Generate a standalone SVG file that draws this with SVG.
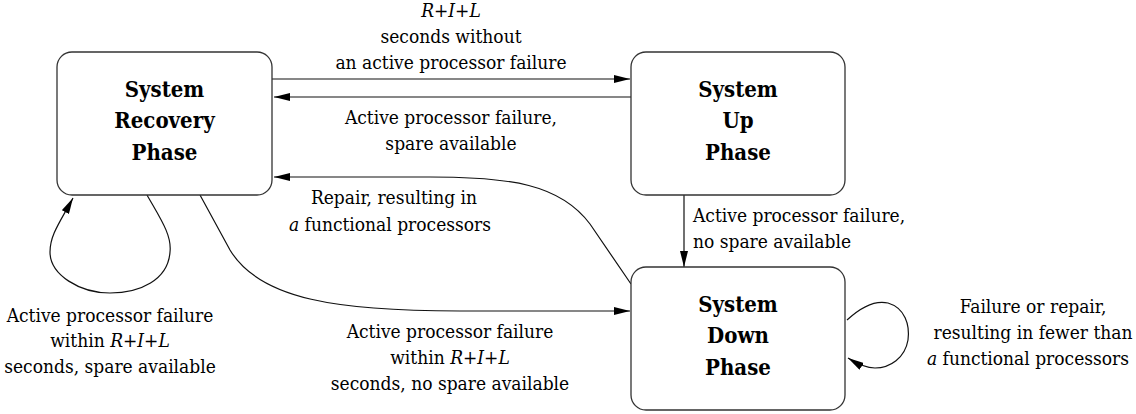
<svg xmlns="http://www.w3.org/2000/svg" width="1136" height="414" viewBox="0 0 1136 414">
<style>
.box{fill:#fff;stroke:#333;stroke-width:1.3}
.title{font-family:"DejaVu Serif Condensed","DejaVu Serif",serif;font-stretch:condensed;font-weight:bold;font-size:22px;text-anchor:middle;fill:#000}
.lbl{font-family:"DejaVu Serif Condensed","DejaVu Serif",serif;font-stretch:condensed;font-size:19px;fill:#000}
.c{text-anchor:middle}
.i{font-style:italic}
.edge{fill:none;stroke:#111;stroke-width:1.2}
</style>
<defs>
<marker id="ah" viewBox="0 0 16 8" refX="16" refY="4" markerWidth="16" markerHeight="8" markerUnits="userSpaceOnUse" orient="auto">
<path d="M0,0 L16,4 L0,8 Z" fill="#000"/>
</marker>
</defs>
<rect width="1136" height="414" fill="#fff"/>
<g id="connectors">
<path class="edge" d="M272 79 L630 79" marker-end="url(#ah)"/>
<path class="edge" d="M631 97 L274 97" marker-end="url(#ah)"/>
<path class="edge" d="M631 284 L590 224 C560 184 510 177 430 177 L274 177" marker-end="url(#ah)"/>
<path class="edge" d="M684 195 L684 267" marker-end="url(#ah)"/>
<path class="edge" d="M200 195 L230 250 C260 300 340 311 460 311 L630 311" marker-end="url(#ah)"/>
<path class="edge" d="M147 195 C160 218 172 235 170 252 C168 280 140 293 110 293 C80 293 50 275 50 252 C50 235 60 222 73 198" marker-end="url(#ah)"/>
<path class="edge" d="M847 320 C860 308 875 300 888 303 C905 308 910 325 908 340 C905 358 890 368 875 368 C865 368 856 363 848 358" marker-end="url(#ah)"/>
</g>
<g id="recovery">
<rect class="box" x="57" y="52" width="215" height="143" rx="15"/>
<text class="title" x="164.5" y="97">System</text>
<text class="title" x="164.5" y="128">Recovery</text>
<text class="title" x="164.5" y="160">Phase</text>
</g>
<g id="up">
<rect class="box" x="631" y="52" width="214" height="143" rx="15"/>
<text class="title" x="738" y="97">System</text>
<text class="title" x="738" y="128">Up</text>
<text class="title" x="738" y="160">Phase</text>
</g>
<g id="down">
<rect class="box" x="631" y="267" width="214" height="143" rx="15"/>
<text class="title" x="738" y="312">System</text>
<text class="title" x="738" y="343">Down</text>
<text class="title" x="738" y="375">Phase</text>
</g>
<g id="labels">
<text class="lbl c i" x="451" y="17">R+I+L</text>
<text class="lbl c" x="451" y="43">seconds without</text>
<text class="lbl c" x="451" y="69">an active processor failure</text>
<text class="lbl c" x="451" y="124">Active processor failure,</text>
<text class="lbl c" x="451" y="150">spare available</text>
<text class="lbl c" x="394" y="204">Repair, resulting in</text>
<text class="lbl c" x="390" y="231"><tspan class="i">a</tspan> functional processors</text>
<text class="lbl" x="693" y="222">Active processor failure,</text>
<text class="lbl" x="693" y="248">no spare available</text>
<text class="lbl c" x="110" y="322">Active processor failure</text>
<text class="lbl c" x="110" y="347">within  <tspan class="i">R+I+L</tspan></text>
<text class="lbl c" x="110" y="373">seconds, spare available</text>
<text class="lbl c" x="450" y="338">Active processor failure</text>
<text class="lbl c" x="450" y="364">within  <tspan class="i">R+I+L</tspan></text>
<text class="lbl c" x="450" y="390">seconds, no spare available</text>
<text class="lbl c" x="1033" y="313">Failure or repair,</text>
<text class="lbl c" x="1033" y="339">resulting in fewer than</text>
<text class="lbl c" x="1028" y="365"><tspan class="i">a</tspan> functional processors</text>
</g>
</svg>
